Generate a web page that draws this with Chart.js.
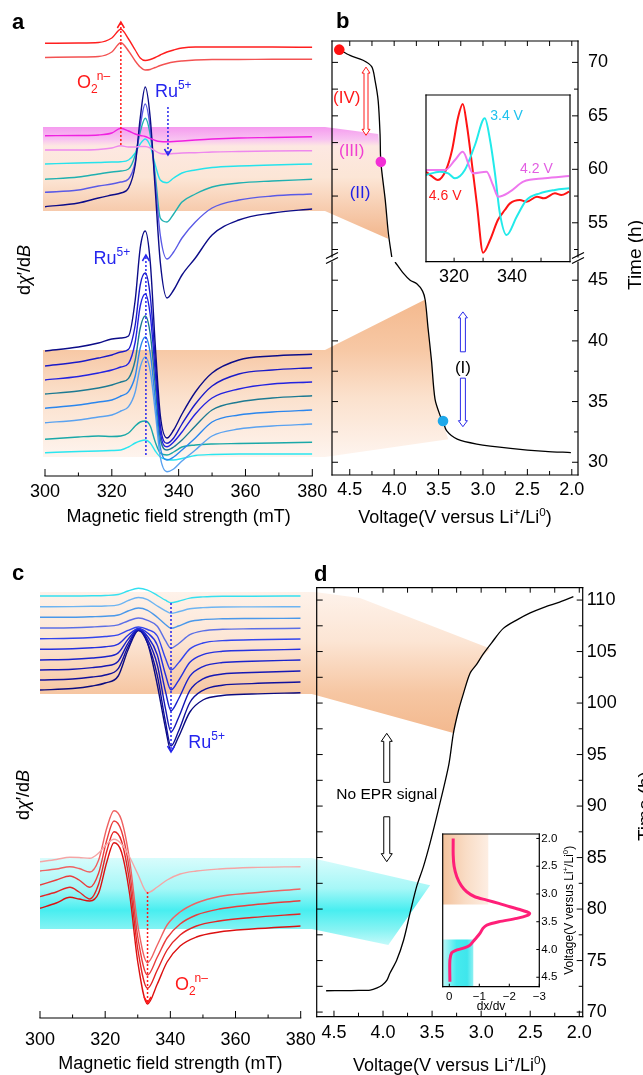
<!DOCTYPE html>
<html lang="en"><head><meta charset="utf-8"><title>EPR spectra and voltage profiles</title>
<script src="https://cdn.jsdelivr.net/npm/chart.js@4.4.1/dist/chart.umd.min.js"></script>
<style>
html,body{margin:0;padding:0;background:#fff;}
#wrap{position:relative;width:643px;height:1075px;overflow:hidden;background:#fff;}
#wrap canvas{position:absolute;}
.pl{position:absolute;font-family:"Liberation Sans",Arial,Helvetica,sans-serif;font-weight:bold;font-size:22px;line-height:22px;color:#000;}
</style></head><body>
<div id="wrap">
<canvas id="bg" width="643" height="1075" style="left:0;top:0"></canvas>
<canvas id="cA" width="340" height="530" style="left:0;top:0"></canvas>
<canvas id="cBu" width="333" height="300" style="left:310px;top:0"></canvas>
<canvas id="cBl" width="333" height="290" style="left:310px;top:240px"></canvas>
<canvas id="cBi" width="160" height="200" style="left:420px;top:90px"></canvas>
<canvas id="cC" width="340" height="515" style="left:0;top:560px"></canvas>
<canvas id="cD" width="333" height="515" style="left:310px;top:560px"></canvas>
<canvas id="cDi" width="180" height="190" style="left:436px;top:824px"></canvas>
<div class="pl" style="left:12px;top:11px">a</div>
<div class="pl" style="left:336px;top:10px">b</div>
<div class="pl" style="left:12px;top:562px">c</div>
<div class="pl" style="left:314px;top:563px">d</div>
</div>
<script>
// ================= DATA =================
// Panel a: EPR spectra, field (mT) vs dχ'/dB (arbitrary, stacked units)
const fieldA = [300,310,316,320,322.7,325,327,328.5,330,331.5,333,334.5,336.5,338.5,341,345,350,358,368,380];
const aO2top  = [432.7,433,433.5,438,446.7,437,426,418,415.5,416.5,418.5,421,424,426,428,429,429,429,429,428.7];
const aO2low  = [418.5,419,419.5,424,433.3,425,415,409,406,406.5,408.5,410.5,412.5,414,415,416,416.5,416.5,416.7,416.7];
const aMag    = [340.3,340.5,341,343,347.7,345,342,340.5,339.5,337.5,335.5,334.5,334.3,334.5,335,336,337,338,338.5,339.3];
const aPink   = [326,326,326.5,328,330.3,329,329,329.5,329.5,328,325,322.5,322,322.5,323,323.3,324,324.5,325,325.3];
const aCyanU  = [312,313,313.5,314,314.3,316,323,332,337,330,311,296,293.3,298,303,306,308.5,310,311,312];
const aTealU  = [296.7,299,302,304,305,307,321,344,357.7,341,301,258,254,262,274,282,289,293,295,296.7];
const aSlateU = [283.7,286,290,292,294,297,314,350,372,348,294,241,217,224,238,254,268,276,280,282];
const aNavyU  = [269.3,273,278,281,283,288,311,358,389,358,286,214,178,186,201,218,241,256,263,267];
const aNavyL  = [125,129,133,137,138,140,176,228,245,214,131,61,38,46,62,84,103,116,120,121.7];
const aBlueL  = [110,114,118,121,124,126.7,151,191,203,180,116,51,32.7,38,52,72,90,102,106,108.3];
const aBlue2L = [96,99.5,103,106,109,112.7,134,170,182,161,104,44,29.3,34,44,62,78,87,92,94];
const aTealDL = [82,85,88,91,94,97.7,116,148,160,142,91,38,26,29,36,50,66,74,78,80.3];
const aAzureL = [67.7,71,74,76,80,84.3,100,128,139,123,76,29,16,19,26,38,54,61,64,66];
const aSkyL   = [53.3,56,59,61,65,69.3,84,109,119,105,64,19,4.3,7,15,26,40,47,50,52];
const aTealL  = [36.7,39,40,39.5,40,43,50,54,55,50,34,23,21,24,29,31,32,32.5,33,33.7];
const aCyanL  = [23.3,24.5,25,25.5,26,29,33,35,36,33,25,19,16.5,16,17.5,20.5,21.5,22,22,22];
const fieldTicks = [300,320,340,360,380];
const fieldMinor = [310,330,350,370];

// Panel b: voltage (V) vs time (h), broken time axis
const bUpV = [4.618,4.497,4.35,4.253,4.215,4.18,4.159,4.15,4.10,4.065,4.027];
const bUpT = [71.19,70.65,70.2,69.6,68.3,66.4,63.3,60.7,57.1,54.0,51.8];
const bLoV = [3.99,3.90,3.82,3.745,3.68,3.65,3.62,3.58,3.54,3.48,3.45,3.41,3.29,3.07,2.69,2.30,2.01];
const bLoT = [46.5,45.6,45.0,44.7,44.1,43.35,41.16,38.4,35.2,33.8,33.4,32.6,31.9,31.5,31.15,30.9,30.8];
const bDotV = [4.618,4.15,3.45];
const bDotT = [71.19,60.7,33.4];
const bDotC = ['#ff1010','#f22fd6','#1ea8ea'];
const voltTicks = [4.5,4.0,3.5,3.0,2.5,2.0];
const voltMinor = [4.25,3.75,3.25,2.75,2.25];
const bUpTicks = [55,60,65,70], bUpMinor = [52.5,57.5,62.5,67.5];
const bLoTicks = [30,35,40,45], bLoMinor = [32.5,37.5,42.5];
// inset of panel b (field mT vs signal, a.u.)
const insRedF  = [310.3,312.5,314.4,317.2,319.3,321.3,323,324.4,326.2,327.9,330,332.4,335.1,337.5,339.3,342.7,345,348.6,351,354.8,357,359.7];
const insRed   = [54,51,49,55,67,86,94.6,82,58,34,5.4,13,25,31,35,37,36,39,38,41,40,42];
const insCyanF = [310.3,315.1,318,320.3,323.7,327.2,330.6,332.4,334.1,335.8,338.1,341.6,345,349.6,354.8,359.7];
const insCyan  = [52,54,53,50,55,70,86,73,53,29,16,27,37,41,43,44];
const insMagF  = [310.3,316.9,320.3,323,326.5,331.2,333.4,335.2,339.3,343.9,351.3,359.7];
const insMag   = [55,55,61,66,53,54,46,39,42,48,50,51.4];
const insTicks = [320,340], insAllTicks = [320,330,340,350];

// Panel c: EPR spectra (discharge)
const fieldC = [300,310,316,320,324,327,330.2,333,336,338.5,340.2,342.5,346,350,356,365,380];
const cB1  = [422,422,422.2,422.5,423.5,427,429.7,427.9,422.7,417.8,415.3,416.8,419.9,421.1,421.7,421.8,422];
const cB2  = [411.3,411.4,411.7,412,413.1,417.3,420.5,418.4,412,407.2,404.7,406.2,409.2,410.4,411,411.1,411.3];
const cB3  = [400.7,400.8,401.3,401.8,403,407,410,407.7,400.7,393.5,389.7,392,396.5,398.4,399.2,399.5,399.7];
const cB4  = [390,390.3,391,391.7,393.1,397,400,397.6,391.7,377.3,369.7,374.3,383.3,387.1,388.7,389.2,389.7];
const cB5  = [379.3,379.7,380.5,381.5,383.2,387.6,391,388.5,382,359.8,348,355.1,369.1,375,377.4,378.2,379];
const cB6  = [368.7,369.2,370.2,371.3,373.9,382.7,389.5,385,372.8,343.5,328,337.4,355.7,363.4,366.7,367.7,368.7];
const cB7  = [358,358.7,360,361.3,365.1,378.6,389,381.5,363,326.6,307.3,319,341.8,351.4,355.5,356.7,358];
const cB8  = [348,348.8,350.4,352,356.8,374.7,388.5,378.4,353,309.4,286.3,300.3,327.6,339.1,344,345.5,347];
const cB9  = [338,339,341,343,349.4,371.2,388,375,342.4,296.3,272,286.7,315.5,327.7,332.8,334.4,336];
const cB10 = [328,329.5,332,335,342,368,387.5,375,333,290,267.3,281,306,318,322.5,324,325.3];
const fieldC2 = [300,305,309.2,312,315.3,318,320.5,322.7,325,327.5,330,333,336,339,343,348,355,365,380];
const cR1 = [156.3,158.5,160.7,160.5,159.7,165,174,178.7,174,161,144,125.3,131,138,144,147,149,150.5,151.3];
const cR2 = [147,149,151.3,149.5,146,158,190,207.3,198,158,93,55.3,73,93,106,115,121.5,125,129];
const cR3 = [133,138,142,138,130.7,145,178,197,187,147,81,43,61,80,94,103,109,113,117.3];
const cR4 = [121.3,126,130.7,126,119,134,167,186.3,177,136,69,29.7,48,68,83,92,97,100.5,104];
const cR5 = [109.7,115,120.7,119,117,125,156,175.3,166,124,56,14,34,56,72,81,86,89,92];

// Panel d: voltage vs time
const dV = [4.58,4.40,4.25,4.13,4.06,4.01,3.96,3.93,3.86,3.79,3.725,3.657,3.589,3.521,3.437,3.33,3.283,3.23,3.18,3.113,3.046,2.98,2.893,2.774,2.63,2.50,2.36,2.20,2.06];
const dT = [72.07,72.08,72.1,72.14,72.35,72.6,73.1,73.76,75.05,77.0,79.6,82.2,84.1,86.4,89.6,94.0,97.06,99.3,100.94,102.9,103.75,104.75,105.85,107.25,108.1,108.75,109.3,109.8,110.33];
const dTicks = [70,75,80,85,90,95,100,105,110];
const dMinor = [72.5,77.5,82.5,87.5,92.5,97.5,102.5,107.5];
// inset of panel d: dx/dV vs voltage
const insdV  = [2.0,2.30,2.50,2.69,2.85,2.96,3.05,3.11,3.17,3.23,3.28,3.32,3.35,3.38,3.44,3.50,3.56,3.62,3.71,3.82,3.92,3.97,4.02,4.06,4.19,4.58];
const insdDX = [-0.13,-0.13,-0.16,-0.25,-0.40,-0.58,-0.85,-1.25,-1.65,-2.02,-2.35,-2.58,-2.68,-2.63,-2.25,-1.65,-1.25,-1.12,-1.02,-0.85,-0.69,-0.5,-0.2,-0.08,-0.02,-0.02];
const insdXTicks = [0,-1,-2,-3];
const insdYTicks = [2.0,2.5,3.0,3.5,4.0,4.5];
const insdOrange = [0.22,-1.3,1.92,3.19];   // dx range, V range
const insdCyan   = [0.22,-0.8,3.82,4.67];

// Annotation anchors (data units)
const aMarks = {o2:[322.7,331,454], ruUp:[336.8,369,321], ruLo:[330.2,21,221]};
const aLabels = {o2:[309.6,394], ruUp:[332.9,385], ruLo:[314.5,218.5], ylab:206};
const cMarks = {ru:[340.2,415,266], o2:[333,126,15]};
const cLabels = {ru:[345.5,276], o2:[341.4,34.5], ylab:223};
const bNotes = {IV:[4.534,66.76], III:[4.478,61.78], II:[4.384,57.88], I:[3.226,37.86]};
const bArrowIV = [4.317,69.56,63.18];
const bArrowI = [3.226,42.39,39.1,36.93,32.93];
const dNote = [3.962,91.23];
const dArrows = [3.962,97.06,92.3,88.96,84.6];
const insLabels = [['3.4 V',338.1,88,'#1fc2ee'],['4.2 V',348.4,56,'#e25ee2'],['4.6 V',316.9,40,'#ff1a1a']];

// Shaded bands linking spectra to the voltage curves
const bandXA = [299.4,383.8];
const bandAup = [265,349];
const bandAupCurve = [[4.18,63.3],[4.15,60.7],[4.10,57.1],[4.069,53.5]];
const bandAlo = [19,126];
const bandAloCurve = [[3.65,43.4],[3.62,41.2],[3.58,38.4],[3.54,35.2],[3.48,33.8],[3.39,31.9]];
const bandXC = [300,383.4];
const bandCor = [324,426];
const bandCorCurve = [[4.676,110.75],[4.235,110.2],[2.91,105.3],[2.98,104.6],[3.046,103.75],[3.113,102.9],[3.18,100.94],[3.23,99.3],[3.283,97.1]];
const bandCcy = [89,160];
const bandCcyCurve = [[3.52,82.3],[3.946,76.5]];

// ================= DRAWING =================
const FONT = '"Liberation Sans", Arial, Helvetica, sans-serif';
Chart.defaults.font.family = FONT;
Chart.defaults.color = '#000';
const RED = '#ff1a1a', BLUE = '#2525ee';

function fnt(r){return (r.it?'italic ':'')+(r.b?'bold ':'')+r.s+'px '+FONT;}
function rich(ctx,x,y,runs,o){o=o||{};ctx.save();ctx.translate(x,y);if(o.rot)ctx.rotate(o.rot);
  ctx.fillStyle=o.color||'#000';ctx.textBaseline='alphabetic';ctx.textAlign='left';
  let w=0;const ws=runs.map(r=>{ctx.font=fnt(r);const v=ctx.measureText(r.t).width+(r.g||0);w+=v;return v;});
  let cx=o.align==='left'?0:(o.align==='right'?-w:-w/2);const base=runs[0].s*0.36;
  runs.forEach((r,i)=>{ctx.font=fnt(r);ctx.fillText(r.t,cx,base+(r.dy||0));cx+=ws[i];});ctx.restore();}
const O2 = ()=>[{t:'O',s:18},{t:'2',s:12,dy:5,g:-1},{t:'n\u2013',s:12,dy:-8}];
const RU = ()=>[{t:'Ru',s:18},{t:'5+',s:12,dy:-8}];
const DCHI = ()=>[{t:'d',s:18},{t:'\u03c7',s:18,it:true},{t:'\u2032/d',s:18},{t:'B',s:18,it:true}];
const VOLT = s=>[{t:'Voltage(V versus Li',s:s},{t:'+',s:s*0.65,dy:-s*0.42},{t:'/Li',s:s},{t:'0',s:s*0.65,dy:-s*0.42},{t:')',s:s}];

function dotArrow(ctx,x,y1,y2,color){ctx.save();ctx.strokeStyle=color;ctx.lineWidth=1.5;ctx.setLineDash([2,2]);
  ctx.beginPath();ctx.moveTo(x,y1);ctx.lineTo(x,y2);ctx.stroke();ctx.setLineDash([]);
  const d=y2>y1?-1:1;ctx.beginPath();ctx.moveTo(x-3.5,y2+d*6);ctx.lineTo(x,y2);ctx.lineTo(x+3.5,y2+d*6);ctx.stroke();ctx.restore();}
function hollowArrow(ctx,x,y1,y2,o){const sw=o.sw/2,hw=o.hw/2,hl=o.hl;ctx.save();ctx.beginPath();
  if(o.top){ctx.moveTo(x,y1);ctx.lineTo(x+hw,y1+hl);ctx.lineTo(x+sw,y1+hl);}else{ctx.moveTo(x+sw,y1);}
  if(o.bot){ctx.lineTo(x+sw,y2-hl);ctx.lineTo(x+hw,y2-hl);ctx.lineTo(x,y2);ctx.lineTo(x-hw,y2-hl);ctx.lineTo(x-sw,y2-hl);}
  else{ctx.lineTo(x+sw,y2);ctx.lineTo(x-sw,y2);}
  if(o.top){ctx.lineTo(x-sw,y1+hl);ctx.lineTo(x-hw,y1+hl);}else{ctx.lineTo(x-sw,y1);}
  ctx.closePath();ctx.fillStyle='#fff';ctx.fill();ctx.strokeStyle=o.color;ctx.lineWidth=1;ctx.stroke();ctx.restore();}
function breakMark(ctx,x,y){ctx.save();ctx.strokeStyle='#000';ctx.lineWidth=1.2;ctx.beginPath();
  [-2.5,2.5].forEach(dy=>{ctx.moveTo(x-6,y+dy+3);ctx.lineTo(x+6,y+dy-3);});ctx.stroke();ctx.restore();}

const specs = {};
specs.cA = {frame:['bottom'], ticks:[['x','bottom',fieldTicks,7],['x','bottom',fieldMinor,3.5]],
  over(ch){const {ctx,scales:{x,y}}=ch;const X=v=>x.getPixelForValue(v),Y=v=>y.getPixelForValue(v);
    dotArrow(ctx,X(aMarks.o2[0]),Y(aMarks.o2[1]),Y(aMarks.o2[2]),RED);
    dotArrow(ctx,X(aMarks.ruUp[0]),Y(aMarks.ruUp[1]),Y(aMarks.ruUp[2]),BLUE);
    dotArrow(ctx,X(aMarks.ruLo[0]),Y(aMarks.ruLo[1]),Y(aMarks.ruLo[2]),BLUE);
    rich(ctx,X(aLabels.o2[0]),Y(aLabels.o2[1]),O2(),{color:RED,align:'left'});
    rich(ctx,X(aLabels.ruUp[0]),Y(aLabels.ruUp[1]),RU(),{color:BLUE,align:'left'});
    rich(ctx,X(aLabels.ruLo[0]),Y(aLabels.ruLo[1]),RU(),{color:BLUE,align:'left'});
    rich(ctx,ch.chartArea.left-21,Y(aLabels.ylab),DCHI(),{rot:-Math.PI/2});
  }};
specs.cC = {frame:['bottom'], ticks:[['x','bottom',fieldTicks,7],['x','bottom',fieldMinor,3.5]],
  over(ch){const {ctx,scales:{x,y}}=ch;const X=v=>x.getPixelForValue(v),Y=v=>y.getPixelForValue(v);
    dotArrow(ctx,X(cMarks.ru[0]),Y(cMarks.ru[1]),Y(cMarks.ru[2]),BLUE);
    dotArrow(ctx,X(cMarks.o2[0]),Y(cMarks.o2[1]),Y(cMarks.o2[2]),RED);
    rich(ctx,X(cLabels.ru[0]),Y(cLabels.ru[1]),RU(),{color:BLUE,align:'left'});
    rich(ctx,X(cLabels.o2[0]),Y(cLabels.o2[1]),O2(),{color:RED,align:'left'});
    rich(ctx,ch.chartArea.left-17,Y(cLabels.ylab),DCHI(),{rot:-Math.PI/2});
  }};
specs.cBu = {frame:['left','top','right'],
  ticks:[['x','top',voltTicks,5],['x','top',voltMinor,5],['y','left',bUpTicks,6],['y','left',bUpMinor,6],['y','right',bUpTicks,6],['y','right',bUpMinor,4]],
  over(ch){const {ctx,scales:{x,y},chartArea:ca}=ch;const X=v=>x.getPixelForValue(v),Y=v=>y.getPixelForValue(v);
    hollowArrow(ctx,X(bArrowIV[0]),Y(bArrowIV[1]),Y(bArrowIV[2]),{sw:4,hw:8,hl:6,top:true,bot:true,color:RED});
    rich(ctx,X(bNotes.IV[0]),Y(bNotes.IV[1]),[{t:'(IV)',s:17}],{color:RED});
    rich(ctx,X(bNotes.III[0]),Y(bNotes.III[1]),[{t:'(III)',s:17}],{color:'#f040d2'});
    rich(ctx,X(bNotes.II[0]),Y(bNotes.II[1]),[{t:'(II)',s:17}],{color:'#2020e6'});
    rich(ctx,ca.right+56,ca.bottom-2,[{t:'Time (h)',s:19}],{rot:-Math.PI/2});
  }};
specs.cBl = {frame:['left','bottom','right'],
  ticks:[['x','bottom',voltTicks,6],['x','bottom',voltMinor,4],['y','left',bLoTicks,6],['y','left',bLoMinor,6],['y','right',bLoTicks,6],['y','right',bLoMinor,4]],
  over(ch){const {ctx,scales:{x,y},chartArea:ca}=ch;const X=v=>x.getPixelForValue(v),Y=v=>y.getPixelForValue(v);
    const xa=X(bArrowI[0]);
    hollowArrow(ctx,xa,Y(bArrowI[1]),Y(bArrowI[2]),{sw:5,hw:9,hl:6,top:true,bot:false,color:'#2a2ae8'});
    hollowArrow(ctx,xa,Y(bArrowI[3]),Y(bArrowI[4]),{sw:5,hw:9,hl:6,top:false,bot:true,color:'#2a2ae8'});
    rich(ctx,X(bNotes.I[0]),Y(bNotes.I[1]),[{t:'(I)',s:17}],{color:'#000'});
    breakMark(ctx,ca.left,ca.top-4);breakMark(ctx,ca.right,ca.top-4);
    rich(ctx,(ca.left+ca.right)/2,ca.bottom+42,VOLT(18),{});
  }};
specs.cBi = {frame:['left','top','right','bottom'], ticks:[['x','bottom',insAllTicks,4]],
  over(ch){const {ctx,scales:{x,y}}=ch;
    insLabels.forEach(l=>rich(ctx,x.getPixelForValue(l[1]),y.getPixelForValue(l[2]),[{t:l[0],s:14}],{color:l[3]}));
  }};
specs.cD = {frame:['left','top','right','bottom'],
  ticks:[['x','bottom',voltTicks,6],['x','bottom',voltMinor,4],['x','top',voltTicks,5],['x','top',voltMinor,5],
         ['y','left',dTicks,6],['y','left',dMinor,6],['y','right',dTicks,6],['y','right',dMinor,4]],
  over(ch){const {ctx,scales:{x,y},chartArea:ca}=ch;const X=v=>x.getPixelForValue(v),Y=v=>y.getPixelForValue(v);
    rich(ctx,X(dNote[0]),Y(dNote[1]),[{t:'No EPR signal',s:15.5}],{});
    const xa=X(dArrows[0]);
    hollowArrow(ctx,xa,Y(dArrows[1]),Y(dArrows[2]),{sw:6,hw:11,hl:8,top:true,bot:false,color:'#000'});
    hollowArrow(ctx,xa,Y(dArrows[3]),Y(dArrows[4]),{sw:6,hw:11,hl:8,top:false,bot:true,color:'#000'});
    rich(ctx,(ca.left+ca.right)/2,ca.bottom+48.3,VOLT(18),{});
    rich(ctx,ca.right+61.3,Y(90),[{t:'Time (h)',s:19}],{rot:-Math.PI/2});
  }};
specs.cDi = {frame:['left','top','right','bottom'], ticks:[['x','bottom',insdXTicks,3],['y','right',insdYTicks,3]],
  under(ch){const {ctx,scales:{x,y}}=ch;
    const rect=(r,stops)=>{const x0=x.getPixelForValue(r[0]),x1=x.getPixelForValue(r[1]),y0=y.getPixelForValue(r[2]),y1=y.getPixelForValue(r[3]);
      const g=ctx.createLinearGradient(x0,0,x1,0);stops.forEach(s=>g.addColorStop(s[0],s[1]));ctx.fillStyle=g;ctx.fillRect(x0,y0,x1-x0,y1-y0);};
    rect(insdOrange,[[0,'#f3c29c'],[0.5,'#f9dcc5'],[1,'#fdeee3']]);
    rect(insdCyan,[[0,'#bdf6f6'],[0.45,'#46eaee'],[0.8,'#3fe6ec'],[1,'#8ef0f2']]);
  },
  over(ch){const {ctx,chartArea:ca}=ch;rich(ctx,ca.right+29,(ca.top+ca.bottom)/2,VOLT(12),{rot:-Math.PI/2});}};

const deco = {id:'deco',
  beforeDatasetsDraw(ch){const s=specs[ch.canvas.id];if(s&&s.under){ch.ctx.save();s.under(ch);ch.ctx.restore();}},
  afterDraw(ch){const s=specs[ch.canvas.id];if(!s)return;const ctx=ch.ctx,ca=ch.chartArea;ctx.save();
    ctx.strokeStyle='#000';ctx.lineWidth=1.2;ctx.lineCap='square';
    (s.frame||[]).forEach(sd=>{ctx.beginPath();
      if(sd==='left'){ctx.moveTo(ca.left,ca.top);ctx.lineTo(ca.left,ca.bottom);}
      if(sd==='right'){ctx.moveTo(ca.right,ca.top);ctx.lineTo(ca.right,ca.bottom);}
      if(sd==='top'){ctx.moveTo(ca.left,ca.top);ctx.lineTo(ca.right,ca.top);}
      if(sd==='bottom'){ctx.moveTo(ca.left,ca.bottom);ctx.lineTo(ca.right,ca.bottom);}
      ctx.stroke();});
    ctx.lineCap='butt';ctx.lineWidth=1;
    (s.ticks||[]).forEach(t=>{const S=ch.scales[t[0]],sd=t[1],len=t[3];t[2].forEach(v=>{const p=S.getPixelForValue(v);ctx.beginPath();
      if(sd==='bottom'){ctx.moveTo(p,ca.bottom);ctx.lineTo(p,ca.bottom-len);}
      if(sd==='top'){ctx.moveTo(p,ca.top);ctx.lineTo(p,ca.top+len);}
      if(sd==='left'){ctx.moveTo(ca.left,p);ctx.lineTo(ca.left+len,p);}
      if(sd==='right'){ctx.moveTo(ca.right,p);ctx.lineTo(ca.right-len,p);}
      ctx.stroke();});});
    if(s.over)s.over(ch);ctx.restore();}};
Chart.register(deco);

const ln=(xs,ys,c,w,mono)=>({data:xs.map((x,i)=>({x:x,y:ys[i]})),borderColor:c,borderWidth:w||1.4,pointRadius:0,fill:false,
  cubicInterpolationMode:mono===false?'default':'monotone',tension:mono===false?0.3:0});
const dot=i=>({data:[{x:bDotV[i],y:bDotT[i]}],showLine:false,pointRadius:5.3,pointBackgroundColor:bDotC[i],pointBorderColor:bDotC[i],pointBorderWidth:0,borderWidth:0});
const fixTicks=arr=>(s=>{s.ticks=arr.map(v=>({value:v}));});
const hx=o=>Object.assign({type:'linear',grid:{display:false,drawTicks:false},border:{display:false}},o);
const tk=(size,pad,cb)=>({font:{size:size},color:'#000',padding:pad,autoSkip:false,maxRotation:0,callback:cb});
function mk(id,datasets,scales,padding){return new Chart(document.getElementById(id),{type:'line',data:{datasets:datasets},
  options:{responsive:false,animation:false,events:[],layout:{padding:padding},plugins:{legend:{display:false},tooltip:{enabled:false}},scales:scales}});}

const chA = mk('cA',[
  ln(fieldA,aO2top,'#ff1e1e'),ln(fieldA,aO2low,'#f35252'),ln(fieldA,aMag,'#f020e0'),ln(fieldA,aPink,'#ee88ee'),
  ln(fieldA,aNavyU,'#0c0c88'),ln(fieldA,aSlateU,'#5a5ae6'),ln(fieldA,aTealU,'#1fb0b0'),ln(fieldA,aCyanU,'#25e3ec'),
  ln(fieldA,aNavyL,'#0c0c88'),ln(fieldA,aBlueL,'#1a1ac8'),ln(fieldA,aBlue2L,'#2323e0'),ln(fieldA,aTealDL,'#1d7a92'),
  ln(fieldA,aAzureL,'#2a86ee'),ln(fieldA,aSkyL,'#5aa2f0'),ln(fieldA,aTealL,'#1aa8a8'),ln(fieldA,aCyanL,'#2ae6f0')],
  {x:hx({min:300,max:380,afterBuildTicks:fixTicks(fieldTicks),afterFit:s=>{s.height=54;},ticks:tk(18,5.5,v=>String(v)),
     title:{display:true,text:'Magnetic field strength (mT)',font:{size:18},color:'#000',padding:{top:0,bottom:2.2}}}),
   y:{type:'linear',display:false,min:0,max:466}},
  {left:45,right:27.7,top:10,bottom:0});

const chBu = mk('cBu',[dot(0),dot(1),ln(bUpV,bUpT,'#000',1.3,false)],
  {x:{type:'linear',display:false,reverse:true,min:1.93,max:4.70},
   y:hx({position:'right',min:51.8,max:72,afterBuildTicks:fixTicks(bUpTicks),afterFit:s=>{s.width=50;},ticks:tk(18,10,v=>String(v))})},
  {left:22,right:15,top:41,bottom:43});

const chBl = mk('cBl',[dot(2),ln(bLoV,bLoT,'#000',1.3,false)],
  {x:hx({reverse:true,min:1.93,max:4.70,afterBuildTicks:fixTicks(voltTicks),afterFit:s=>{s.height=55;},ticks:tk(18,4.2,v=>v.toFixed(1))}),
   y:hx({position:'right',min:28.95,max:46.5,afterBuildTicks:fixTicks(bLoTicks),afterFit:s=>{s.width=50;},ticks:tk(18,10,v=>String(v))})},
  {left:22,right:15,top:22,bottom:0});

const chBi = mk('cBi',[ln(insMagF,insMag,'#ee77ee',2),ln(insCyanF,insCyan,'#22eaea',2),ln(insRedF,insRed,'#ff1414',2)],
  {x:hx({min:310.3,max:360,afterBuildTicks:fixTicks(insTicks),afterFit:s=>{s.height=28.3;},ticks:tk(18,4.5,v=>String(v))}),
   y:{type:'linear',display:false,min:0,max:100}},
  {left:6,right:10,top:5,bottom:0});

const chC = mk('cC',[
  ln(fieldC,cB1,'#35e0f0'),ln(fieldC,cB2,'#6db4f2'),ln(fieldC,cB3,'#4a98ea'),ln(fieldC,cB4,'#5b6fe6'),ln(fieldC,cB5,'#3345ee'),
  ln(fieldC,cB6,'#2530e0'),ln(fieldC,cB7,'#1a22cc'),ln(fieldC,cB8,'#1517b4'),ln(fieldC,cB9,'#10109c'),ln(fieldC,cB10,'#0b0b80'),
  ln(fieldC2,cR1,'#f5a5a5'),ln(fieldC2,cR2,'#ef6262'),ln(fieldC2,cR3,'#ea3c3c'),ln(fieldC2,cR4,'#e42424'),ln(fieldC2,cR5,'#dc1010')],
  {x:hx({min:300,max:380,afterBuildTicks:fixTicks(fieldTicks),afterFit:s=>{s.height=57;},ticks:tk(18,11.2,v=>String(v)),
     title:{display:true,text:'Magnetic field strength (mT)',font:{size:18},color:'#000',padding:{top:0,bottom:0}}}),
   y:{type:'linear',display:false,min:0,max:438}},
  {left:40,right:39.3,top:20,bottom:0});

const chD = mk('cD',[ln(dV,dT,'#000',1.3,false)],
  {x:hx({reverse:true,min:1.965,max:4.676,afterBuildTicks:fixTicks(voltTicks),afterFit:s=>{s.height=58.3;},ticks:tk(18,5.2,v=>v.toFixed(1))}),
   y:hx({position:'right',min:69.55,max:111.2,afterBuildTicks:fixTicks(dTicks),afterFit:s=>{s.width=50;},ticks:tk(18,4,v=>String(v))})},
  {left:6.7,right:10.3,top:27.7,bottom:0});

const chDi = mk('cDi',[ln(insdDX,insdV,'#ff1f78',3,false)],
  {x:hx({reverse:true,min:-3,max:0.22,afterBuildTicks:fixTicks(insdXTicks),afterFit:s=>{s.height=27.3;},
     ticks:tk(11.5,3,v=>v===0?'0':'\u2212'+Math.abs(v)),
     title:{display:true,text:'dx/dv',font:{size:12},color:'#000',padding:{top:0,bottom:0}}}),
   y:hx({position:'right',reverse:true,min:1.92,max:4.67,afterBuildTicks:fixTicks(insdYTicks),afterFit:s=>{s.width=22;},ticks:tk(11.5,2,v=>v.toFixed(1))})},
  {left:6.7,right:54.7,top:10,bottom:0});

// ---- bands on the background canvas (through the charts' scales) ----
(function drawBands(){
  const ctx=document.getElementById('bg').getContext('2d');
  const P=(ch,xv,yv)=>[ch.canvas.offsetLeft+ch.scales.x.getPixelForValue(xv),ch.canvas.offsetTop+ch.scales.y.getPixelForValue(yv)];
  function poly(pts,stops){let y0=1e9,y1=-1e9;pts.forEach(p=>{y0=Math.min(y0,p[1]);y1=Math.max(y1,p[1]);});
    const g=ctx.createLinearGradient(0,y0,0,y1);stops.forEach(s=>g.addColorStop(s[0],s[1]));
    ctx.beginPath();pts.forEach((p,i)=>i?ctx.lineTo(p[0],p[1]):ctx.moveTo(p[0],p[1]));ctx.closePath();ctx.fillStyle=g;ctx.fill();}
  poly([P(chA,bandXA[0],bandAup[1]),P(chA,bandXA[1],bandAup[1])].concat(bandAupCurve.map(p=>P(chBu,p[0],p[1])),
       [P(chA,bandXA[1],bandAup[0]),P(chA,bandXA[0],bandAup[0])]),
       [[0,'#f59bef'],[0.11,'#f8c2f1'],[0.17,'#fde8e2'],[0.45,'#fce6d6'],[0.72,'#f7cdb0'],[1,'#f2b68c']]);
  poly([P(chA,bandXA[0],bandAlo[1]),P(chA,bandXA[1],bandAlo[1])].concat(bandAloCurve.map(p=>P(chBl,p[0],p[1])),
       [P(chA,bandXA[1],bandAlo[0]),P(chA,bandXA[0],bandAlo[0])]),
       [[0,'#f4b98e'],[0.32,'#f7c8a5'],[0.62,'#fbe1cd'],[1,'#fef4ee']]);
  poly([P(chC,bandXC[0],bandCor[1]),P(chC,bandXC[1],bandCor[1])].concat(bandCorCurve.map(p=>P(chD,p[0],p[1])),
       [P(chC,bandXC[1],bandCor[0]),P(chC,bandXC[0],bandCor[0])]),
       [[0,'#fef2ea'],[0.35,'#fce5d4'],[0.72,'#f6c6a2'],[1,'#f3b98f']]);
  poly([P(chC,bandXC[0],bandCcy[1]),P(chC,bandXC[1],bandCcy[1])].concat(bandCcyCurve.map(p=>P(chD,p[0],p[1])),
       [P(chC,bandXC[1],bandCcy[0]),P(chC,bandXC[0],bandCcy[0])]),
       [[0,'#d8fcfc'],[0.35,'#a6f7f7'],[0.6,'#48eef0'],[0.82,'#86f3f3'],[1,'#c5fafa']]);
})();
</script>
</body></html>
